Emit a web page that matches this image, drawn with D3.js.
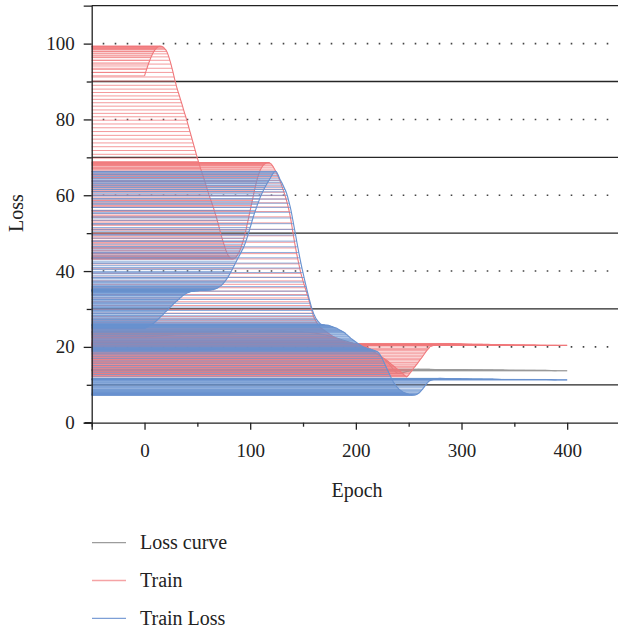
<!DOCTYPE html>
<html lang="en">
<head>
<meta charset="UTF-8">
<title>Loss vs Epoch</title>
<script src="https://d3js.org/d3.v7.min.js"></script>
<style>
  body { margin: 0; background: #fff; }
  text { font-family: "Liberation Serif", "DejaVu Serif", serif; fill: #222; }
</style>
</head>
<body>
<script>
// epochs in the data: every epoch up to 270, then every 10 on the flat tail
const epochs = d3.range(0, 271, 1).concat(d3.range(280, 401, 10));
const grayEpochs = d3.range(0, 401, 10);

// "Train" series (red)
const train = [
  91.5, 92.4, 93.2, 94.1, 94.9, 95.6, 96.3, 96.9, 97.5, 98.0,
  98.4, 98.7, 99.0, 99.2, 99.3, 99.3, 99.3, 99.2, 99.0, 98.7,
  98.4, 97.9, 97.3, 96.5, 95.6, 94.6, 93.5, 92.4, 91.2, 90.1,
  89.0, 88.0, 87.1, 86.2, 85.3, 84.4, 83.5, 82.5, 81.6, 80.7,
  79.8, 78.8, 77.8, 76.8, 75.8, 74.8, 73.8, 72.8, 71.8, 70.8,
  69.8, 68.9, 68.0, 67.1, 66.3, 65.4, 64.6, 63.7, 62.8, 61.9,
  61.0, 60.1, 59.3, 58.5, 57.7, 56.9, 56.0, 55.1, 54.2, 53.2,
  52.2, 51.1, 50.0, 49.0, 48.1, 47.2, 46.3, 45.5, 44.8, 44.2,
  43.8, 43.5, 43.3, 43.2, 43.2, 43.3, 43.5, 43.8, 44.2, 44.7,
  45.3, 46.0, 46.8, 47.7, 48.6, 49.7, 50.8, 52.1, 53.4, 54.7,
  56.0, 57.3, 58.6, 59.9, 61.2, 62.4, 63.6, 64.6, 65.5, 66.3,
  66.9, 67.4, 67.8, 68.1, 68.3, 68.5, 68.6, 68.6, 68.6, 68.4,
  68.2, 67.8, 67.4, 66.9, 66.4, 65.8, 65.2, 64.6, 63.9, 63.2,
  62.4, 61.6, 60.8, 59.9, 59.0, 58.0, 56.9, 55.7, 54.3, 52.7,
  51.0, 49.3, 47.6, 46.1, 44.6, 43.2, 41.9, 40.6, 39.4, 38.4,
  37.4, 36.5, 35.6, 34.7, 33.8, 32.9, 31.9, 30.9, 29.9, 28.9,
  28.0, 27.4, 26.9, 26.4, 26.0, 25.6, 25.3, 25.0, 24.8, 24.6,
  24.4, 24.2, 24.0, 23.8, 23.6, 23.4, 23.2, 23.0, 22.8, 22.7,
  22.5, 22.4, 22.2, 22.1, 22.0, 21.8, 21.7, 21.6, 21.5, 21.4,
  21.3, 21.3, 21.2, 21.2, 21.1, 21.1, 21.0, 21.0, 20.9, 20.9,
  20.8, 20.8, 20.7, 20.6, 20.5, 20.5, 20.4, 20.3, 20.2, 20.1,
  20.0, 19.9, 19.7, 19.5, 19.3, 19.1, 18.9, 18.8, 18.6, 18.4,
  18.2, 18.0, 17.8, 17.6, 17.4, 17.2, 17.0, 16.9, 16.7, 16.5,
  16.3, 16.1, 15.8, 15.6, 15.3, 15.1, 14.9, 14.7, 14.4, 14.2,
  14.0, 13.8, 13.5, 13.3, 13.0, 12.8, 12.5, 12.3, 12.1, 12.3,
  12.6, 13.0, 13.3, 13.7, 14.1, 14.5, 14.8, 15.2, 15.5, 15.9,
  16.3, 16.7, 17.0, 17.4, 17.8, 18.2, 18.6, 19.0, 19.3, 19.6,
  20.0,
  20.8, 20.9, 20.8, 20.7, 20.7, 20.6, 20.6, 20.5, 20.5, 20.5, 20.4, 20.4, 20.4
];

// "Train Loss" series (blue)
const trainLoss = [
  24.8, 25.0, 25.1, 25.3, 25.5, 25.6, 25.8, 25.9, 26.1, 26.3,
  26.6, 26.8, 27.1, 27.3, 27.6, 27.9, 28.2, 28.4, 28.7, 29.0,
  29.3, 29.5, 29.8, 30.1, 30.4, 30.6, 30.9, 31.2, 31.5, 31.7,
  32.0, 32.2, 32.5, 32.7, 33.0, 33.2, 33.5, 33.7, 33.9, 34.0,
  34.2, 34.3, 34.4, 34.5, 34.6, 34.6, 34.7, 34.7, 34.8, 34.8,
  34.8, 34.8, 34.9, 34.9, 34.9, 34.9, 34.9, 34.9, 35.0, 35.0,
  35.0, 35.0, 35.0, 35.0, 35.1, 35.1, 35.2, 35.3, 35.4, 35.5,
  35.7, 35.9, 36.1, 36.3, 36.6, 36.9, 37.2, 37.6, 38.0, 38.4,
  38.9, 39.4, 39.9, 40.4, 41.0, 41.5, 42.1, 42.6, 43.2, 43.7,
  44.2, 44.7, 45.3, 45.8, 46.4, 47.1, 47.9, 48.7, 49.6, 50.5,
  51.5, 52.4, 53.4, 54.3, 55.2, 56.0, 56.8, 57.6, 58.3, 59.1,
  59.8, 60.4, 61.0, 61.6, 62.1, 62.6, 63.1, 63.6, 64.0, 64.5,
  65.0, 65.5, 65.9, 66.2, 66.3, 66.1, 65.6, 65.0, 64.3, 63.8,
  63.3, 62.7, 62.1, 61.5, 60.9, 60.0, 59.0, 57.9, 56.8, 55.5,
  54.0, 52.5, 51.0, 49.5, 47.9, 46.4, 44.9, 43.5, 42.1, 40.8,
  39.6, 38.3, 37.1, 35.9, 34.7, 33.6, 32.5, 31.5, 30.5, 29.6,
  28.8, 28.2, 27.6, 27.2, 26.8, 26.5, 26.2, 26.0, 25.9, 25.8,
  25.8, 25.7, 25.7, 25.7, 25.7, 25.6, 25.5, 25.4, 25.3, 25.2,
  25.1, 25.0, 24.9, 24.7, 24.6, 24.4, 24.3, 24.1, 24.0, 23.8,
  23.6, 23.3, 23.1, 22.8, 22.6, 22.3, 22.1, 21.9, 21.7, 21.5,
  21.3, 21.1, 20.9, 20.7, 20.5, 20.3, 20.2, 20.0, 19.9, 19.8,
  19.7, 19.6, 19.5, 19.4, 19.4, 19.3, 19.2, 19.1, 19.0, 18.9,
  18.8, 18.6, 18.3, 17.9, 17.4, 16.9, 16.3, 15.7, 15.1, 14.5,
  13.9, 13.3, 12.7, 12.1, 11.5, 11.0, 10.5, 10.1, 9.7, 9.4,
  9.1, 8.8, 8.6, 8.4, 8.2, 8.0, 7.9, 7.8, 7.7, 7.6,
  7.5, 7.4, 7.4, 7.3, 7.3, 7.3, 7.3, 7.4, 7.5, 7.7,
  7.9, 8.2, 8.5, 8.8, 9.2, 9.5, 9.9, 10.3, 10.6, 10.9,
  11.1,
  11.7, 11.6, 11.6, 11.5, 11.5, 11.5, 11.4, 11.4, 11.4, 11.4, 11.4, 11.3, 11.3
];

// "Loss curve" series (gray), mostly hidden under the others
const lossCurve = [
  22.5, 22.8, 23.0, 23.2, 23.3, 23.4, 23.5, 23.6, 23.7, 23.8,
  23.9, 24.0, 24.1, 24.1, 24.0, 23.9, 23.7, 23.2, 22.5, 21.6,
  20.6, 19.5, 18.2, 16.0, 13.0, 13.6, 14.1, 14.1, 14.0, 14.0,
  14.0, 13.9, 13.9, 13.9, 13.9, 13.8, 13.8, 13.8, 13.8, 13.7, 13.7
];

const seriesNames = ["Loss curve", "Train", "Train Loss"];
const seriesColors = ["#999999", "#f0787b", "#6891cf"];
const legendColors = ["#9c9c9c", "#f5a3a5", "#7d9fd6"];

const yMajorTicks = [0, 20, 40, 60, 80, 100];
const yMinorTicks = [10, 30, 50, 70, 90];
const xMajorTicks = [0, 100, 200, 300, 400];
const xMinorTicks = [-50, 50, 150, 250, 350];

const width = 618, height = 631;
const plotLeft = 91.7, plotRight = 620, plotTop = 5.7, plotBottom = 422.7;

const svg = d3.select("body").append("svg")
  .attr("width", width)
  .attr("height", height);

const x = d3.scaleLinear().domain([-50, 450]).range([plotLeft, plotRight]);
const y = d3.scaleLinear().domain([0, 110]).range([plotBottom, plotTop]);

// grid: solid at odd tens, dotted at labelled values
svg.append("g").selectAll("line")
  .data(yMinorTicks)
  .join("line")
  .attr("x1", plotLeft).attr("x2", width)
  .attr("y1", d => y(d)).attr("y2", d => y(d))
  .attr("stroke", "#262626")
  .attr("stroke-width", 1.3);

svg.append("g").selectAll("line")
  .data(yMajorTicks.filter(d => d > 0))
  .join("line")
  .attr("x1", plotLeft + 11).attr("x2", width)
  .attr("y1", d => y(d)).attr("y2", d => y(d))
  .attr("stroke", "#444")
  .attr("stroke-width", 1.6)
  .attr("stroke-dasharray", "1.6 10.4");

// series: horizontal drop lines to the y axis, then the curve
const series = [
  { xs: grayEpochs, ys: lossCurve },
  { xs: epochs, ys: train },
  { xs: epochs, ys: trainLoss }
];

series.forEach((s, i) => {
  const pts = s.xs.map((e, j) => [e, s.ys[j]]);
  const g = svg.append("g");
  g.selectAll("line")
    .data(pts)
    .join("line")
    .attr("x1", x(-50))
    .attr("x2", d => x(d[0]))
    .attr("y1", d => y(d[1]))
    .attr("y2", d => y(d[1]))
    .attr("stroke", seriesColors[i])
    .attr("stroke-width", 1)
    .attr("stroke-opacity", 0.75);
  g.append("path")
    .datum(pts)
    .attr("fill", "none")
    .attr("stroke", seriesColors[i])
    .attr("stroke-width", 1.1)
    .attr("d", d3.line().x(d => x(d[0])).y(d => y(d[1])).curve(d3.curveMonotoneX));
});

// frame and axes
svg.append("line")
  .attr("x1", plotLeft).attr("x2", width)
  .attr("y1", plotTop).attr("y2", plotTop)
  .attr("stroke", "#222").attr("stroke-width", 1.3);

svg.append("g")
  .attr("transform", `translate(${plotLeft},0)`)
  .call(d3.axisLeft(y).tickValues(yMajorTicks).tickSize(8).tickPadding(9).tickFormat(d3.format("d")));
svg.append("g")
  .attr("transform", `translate(${plotLeft},0)`)
  .call(d3.axisLeft(y).tickValues(yMinorTicks).tickSize(5).tickFormat(""))
  .call(g => g.select(".domain").remove());

svg.append("g")
  .attr("transform", `translate(0,${plotBottom})`)
  .call(d3.axisBottom(x).tickValues(xMajorTicks).tickSize(7).tickPadding(14).tickFormat(d3.format("d")));
svg.append("g")
  .attr("transform", `translate(0,${plotBottom})`)
  .call(d3.axisBottom(x).tickValues(xMinorTicks).tickSize(4).tickFormat(""))
  .call(g => g.select(".domain").remove());

svg.selectAll(".domain").attr("stroke", "#222").attr("stroke-width", 1.3);
svg.selectAll(".tick line").attr("stroke", "#222").attr("stroke-width", 1.3);
svg.selectAll(".tick text")
  .attr("font-family", "Liberation Serif, serif")
  .attr("font-size", 19)
  .attr("fill", "#222");

// x axis line runs slightly past the y axis
svg.append("line")
  .attr("x1", 85).attr("x2", plotLeft)
  .attr("y1", plotBottom).attr("y2", plotBottom)
  .attr("stroke", "#222").attr("stroke-width", 1.3);

// axis titles
svg.append("text")
  .attr("x", 357).attr("y", 497)
  .attr("text-anchor", "middle")
  .attr("font-size", 20)
  .text("Epoch");

svg.append("text")
  .attr("transform", "translate(23,213) rotate(-90)")
  .attr("text-anchor", "middle")
  .attr("font-size", 20)
  .text("Loss");

// legend
const legend = svg.append("g").selectAll("g")
  .data(seriesNames)
  .join("g")
  .attr("transform", (d, i) => `translate(92,${542.7 + i * 37.8})`);
legend.append("line")
  .attr("x1", 0).attr("x2", 34)
  .attr("stroke", (d, i) => legendColors[i])
  .attr("stroke-width", 1.3);
legend.append("text")
  .attr("x", 48).attr("y", 6.5)
  .attr("font-size", 20)
  .text(d => d);
</script>
</body>
</html>
